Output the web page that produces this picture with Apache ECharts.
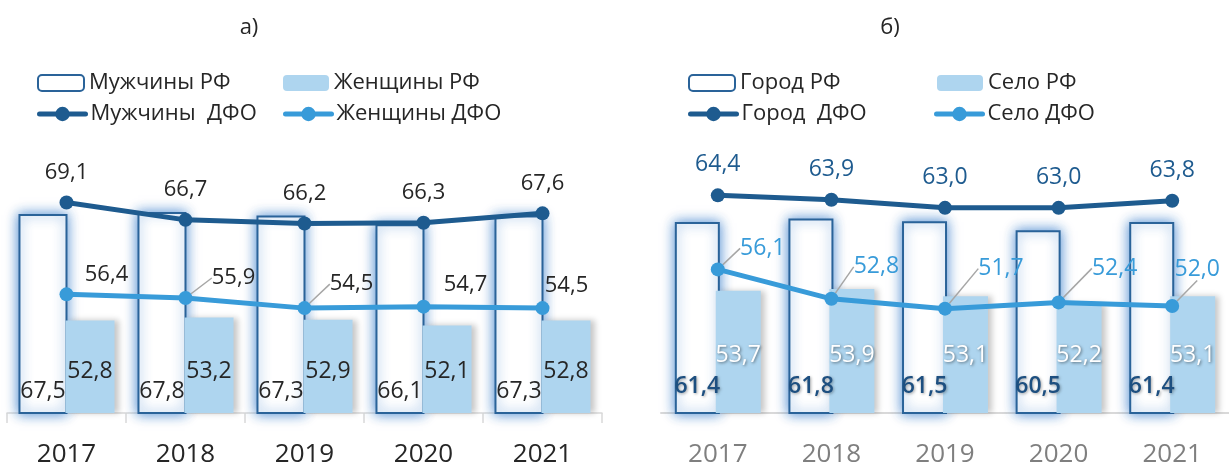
<!DOCTYPE html>
<html>
<head>
<meta charset="utf-8">
<script src="https://cdn.jsdelivr.net/npm/echarts@6/dist/echarts.min.js"></script>
<style>
  html, body { margin: 0; padding: 0; background: #fff; }
  #chart { width: 1229px; height: 468px; }
</style>
</head>
<body>
<div id="chart"></div>
<script>
// данные
var years = ['2017', '2018', '2019', '2020', '2021']
var menRF = [67.5, 67.8, 67.3, 66.1, 67.3]
var womenRF = [52.8, 53.2, 52.9, 52.1, 52.8]
var menDFO = [69.1, 66.7, 66.2, 66.3, 67.6]
var womenDFO = [56.4, 55.9, 54.5, 54.7, 54.5]
var cityRF = [61.4, 61.8, 61.5, 60.5, 61.4]
var villageRF = [53.7, 53.9, 53.1, 52.2, 53.1]
var cityDFO = [64.4, 63.9, 63.0, 63.0, 63.8]
var villageDFO = [56.1, 52.8, 51.7, 52.4, 52.0]

// сдвиги подписей (dx, dy) и выноски
var womenOffsets = [[40, -20], [48, -20], [47, -24], [42, -22], [24, -22]]
var womenLeader = [false, true, true, false, false]
var villageOffsets = [[45, -21], [45, -32], [56, -40], [56, -34], [25, -37]]

var FONT = '"Open Sans", "Noto Sans", sans-serif'
var dark = '#262626'
var navy = '#1e5b8f'
var sky = '#389bd9'
var pale = '#aed5ef'

function fmt (p) {
  return p.value.toFixed(1).replace('.', ',')
}

function legendItem (name, left, top, isLine) {
  var item = { name: name }
  if (isLine) {
    item.lineStyle = { width: 5, cap: 'round' }
  }
  return {
    data: [item],
    left: left,
    top: top,
    padding: 0,
    itemWidth: 46,
    itemHeight: isLine ? 18 : 16,
    itemGap: 0,
    selectedMode: false,
    textStyle: { fontFamily: FONT, fontSize: 22, color: dark }
  }
}

var chart = echarts.init(document.getElementById('chart'))

var option = {
  animation: false,
  title: [
    { text: 'а)', left: 244, top: 12, textAlign: 'center', textStyle: { fontFamily: FONT, fontSize: 22, fontWeight: 'normal', color: dark } },
    { text: 'б)', left: 885, top: 12, textAlign: 'center', textStyle: { fontFamily: FONT, fontSize: 22, fontWeight: 'normal', color: dark } }
  ],
  legend: [
    legendItem('Мужчины РФ', 37, 72, false),
    legendItem('Женщины РФ', 283, 72, false),
    legendItem('Мужчины  ДФО', 37, 103, true),
    legendItem('Женщины ДФО', 283, 103, true),
    legendItem('Город РФ', 688, 72, false),
    legendItem('Село РФ', 937, 72, false),
    legendItem('Город  ДФО', 688, 103, true),
    legendItem('Село ДФО', 934, 103, true)
  ],
  grid: [
    { left: 7, width: 595, top: 196, height: 220 },
    { left: 661, width: 571, top: 190, height: 226 }
  ],
  xAxis: [
    {
      type: 'category',
      gridIndex: 0,
      data: years,
      axisLine: { lineStyle: { color: '#d9d9d9', width: 1.5 } },
      axisTick: { show: true, length: 10, lineStyle: { color: '#d9d9d9', width: 1.5 } },
      axisLabel: { fontFamily: FONT, fontSize: 26, color: dark, margin: 29 }
    },
    {
      type: 'category',
      gridIndex: 1,
      data: years,
      axisLine: { lineStyle: { color: '#d9d9d9', width: 2 } },
      axisTick: { show: false },
      axisLabel: { fontFamily: FONT, fontSize: 26, color: '#7f7f7f', margin: 29 }
    }
  ],
  yAxis: [
    { type: 'value', gridIndex: 0, min: 40, max: 70, show: false },
    { type: 'value', gridIndex: 1, min: 40, max: 65, show: false }
  ],
  series: [
    {
      name: 'Мужчины РФ',
      type: 'bar',
      xAxisIndex: 0,
      yAxisIndex: 0,
      data: menRF,
      barWidth: 49,
      barGap: '-4%',
      itemStyle: {
        color: '#fff',
        borderColor: '#2a6399',
        borderWidth: 2,
        shadowColor: 'rgba(46,117,200,0.85)',
        shadowBlur: 12
      },
      label: {
        show: true,
        position: 'insideBottom',
        distance: 11,
        formatter: fmt,
        fontFamily: FONT,
        fontSize: 23,
        color: dark
      }
    },
    {
      name: 'Женщины РФ',
      type: 'bar',
      xAxisIndex: 0,
      yAxisIndex: 0,
      data: womenRF,
      barWidth: 49,
      itemStyle: {
        color: pale,
        shadowColor: 'rgba(0,0,0,0.22)',
        shadowBlur: 6,
        shadowOffsetX: 4
      },
      label: {
        show: true,
        position: 'insideBottom',
        distance: 30,
        formatter: fmt,
        fontFamily: FONT,
        fontSize: 23,
        color: dark
      }
    },
    {
      name: 'Мужчины  ДФО',
      type: 'line',
      xAxisIndex: 0,
      yAxisIndex: 0,
      data: menDFO,
      symbol: 'circle',
      symbolSize: 14,
      lineStyle: { color: navy, width: 5 },
      itemStyle: { color: navy },
      z: 5,
      label: {
        show: true,
        position: 'top',
        distance: 12,
        formatter: fmt,
        fontFamily: FONT,
        fontSize: 22,
        color: dark
      }
    },
    {
      name: 'Женщины ДФО',
      type: 'line',
      xAxisIndex: 0,
      yAxisIndex: 0,
      data: womenDFO.map(function (v, i) {
        return { value: v, labelLine: { show: womenLeader[i] } }
      }),
      symbol: 'circle',
      symbolSize: 14,
      lineStyle: { color: sky, width: 5 },
      itemStyle: { color: sky },
      z: 5,
      label: {
        show: true,
        position: 'inside',
        formatter: fmt,
        fontFamily: FONT,
        fontSize: 22,
        color: dark
      },
      labelLine: { show: true, lineStyle: { color: '#a6a6a6', width: 1.5 } },
      labelLayout: function (p) {
        var o = womenOffsets[p.dataIndex]
        return { dx: o[0], dy: o[1] }
      }
    },
    {
      name: 'Город РФ',
      type: 'bar',
      xAxisIndex: 1,
      yAxisIndex: 1,
      data: cityRF,
      barWidth: 45,
      barGap: '-9%',
      itemStyle: {
        color: '#fff',
        borderColor: '#2a6399',
        borderWidth: 2,
        shadowColor: 'rgba(46,117,200,0.85)',
        shadowBlur: 12
      },
      label: {
        show: true,
        position: 'insideBottom',
        distance: 16,
        formatter: fmt,
        fontFamily: FONT,
        fontSize: 23,
        fontWeight: 600,
        color: '#1d4f80',
        textShadowColor: 'rgba(0,0,0,0.35)',
        textShadowBlur: 3,
        textShadowOffsetX: 1,
        textShadowOffsetY: 1
      }
    },
    {
      name: 'Село РФ',
      type: 'bar',
      xAxisIndex: 1,
      yAxisIndex: 1,
      data: villageRF,
      barWidth: 45,
      itemStyle: {
        color: pale,
        shadowColor: 'rgba(0,0,0,0.22)',
        shadowBlur: 6,
        shadowOffsetX: 4
      },
      label: {
        show: true,
        position: 'insideBottom',
        distance: 46,
        formatter: fmt,
        fontFamily: FONT,
        fontSize: 23,
        color: '#fff',
        textShadowColor: 'rgba(0,0,0,0.5)',
        textShadowBlur: 3,
        textShadowOffsetX: 1,
        textShadowOffsetY: 1
      }
    },
    {
      name: 'Город  ДФО',
      type: 'line',
      xAxisIndex: 1,
      yAxisIndex: 1,
      data: cityDFO,
      symbol: 'circle',
      symbolSize: 14,
      lineStyle: { color: navy, width: 5 },
      itemStyle: { color: navy },
      z: 5,
      label: {
        show: true,
        position: 'top',
        distance: 12,
        formatter: fmt,
        fontFamily: FONT,
        fontSize: 23,
        color: navy
      }
    },
    {
      name: 'Село ДФО',
      type: 'line',
      xAxisIndex: 1,
      yAxisIndex: 1,
      data: villageDFO,
      symbol: 'circle',
      symbolSize: 14,
      lineStyle: { color: sky, width: 5 },
      itemStyle: { color: sky },
      z: 5,
      label: {
        show: true,
        position: 'inside',
        formatter: fmt,
        fontFamily: FONT,
        fontSize: 23,
        color: sky
      },
      labelLine: { show: true, lineStyle: { color: '#a6a6a6', width: 1.5 } },
      labelLayout: function (p) {
        var o = villageOffsets[p.dataIndex]
        return { dx: o[0], dy: o[1] }
      }
    }
  ]
}

chart.setOption(option)
</script>
</body>
</html>
